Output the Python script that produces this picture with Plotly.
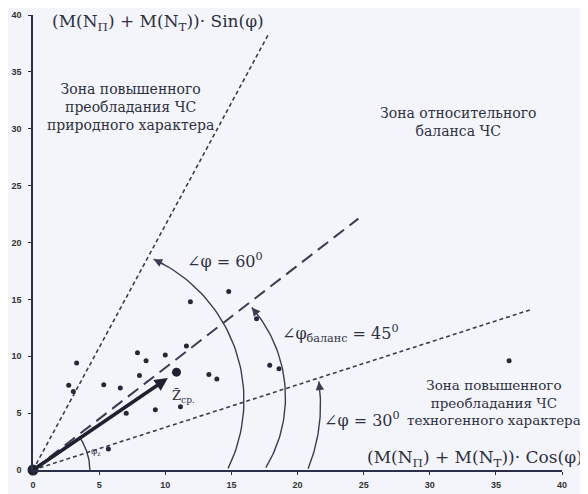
import numpy as np
import plotly.graph_objects as go

# ---- data ----
point_x = [3.3, 2.7, 3.05, 7.9, 8.55, 10.0, 8.05, 5.35, 6.6, 7.05, 9.25, 11.15,
           11.9, 14.8, 13.3, 13.9, 16.9, 17.9, 18.6, 36.0, 5.7, 11.6]
point_y = [9.4, 7.45, 6.9, 10.3, 9.6, 10.1, 8.3, 7.5, 7.2, 5.0, 5.3, 5.55,
           14.8, 15.7, 8.4, 8.0, 13.3, 9.2, 8.9, 9.6, 1.85, 10.9]
mean_vector = [10.85, 8.6]
line60_end = [17.8, 38.3]
line45_end = [24.6, 22.1]
line30_end = [37.65, 14.1]
tick_vals = [0, 5, 10, 15, 20, 25, 30, 35, 40]

# arc constructions: (cx, cy, rx, ry, start_deg, end_deg)
arc60 = (4.13, 6.14, 11.82, 13.68, -26, 65)
arc45 = (8.71, 6.40, 10.38, 12.02, -31, 41)
arc30 = (8.86, 5.70, 12.88, 14.91, -22, 8)
arc_small = (0.0, 0.0, 4.3, 5.0, 0, 36)

INK = "#3a3d52"
TXT = "#2f3040"
SERIF = "DejaVu Serif"

def arc_points(a):
    cx, cy, rx, ry, a0, a1 = a
    t = np.radians(np.linspace(a0, a1, 60))
    return cx + rx * np.cos(t), cy + ry * np.sin(t)

fig = go.Figure()

# boundary lines
fig.add_trace(go.Scatter(x=[0, line60_end[0]], y=[0, line60_end[1]], mode="lines",
                         line=dict(color=INK, width=1.6, dash="4px,3px"), cliponaxis=False))
fig.add_trace(go.Scatter(x=[0, line30_end[0]], y=[0, line30_end[1]], mode="lines",
                         line=dict(color=INK, width=1.6, dash="4px,3px"), cliponaxis=False))
fig.add_trace(go.Scatter(x=[0, line45_end[0]], y=[0, line45_end[1]], mode="lines",
                         line=dict(color=INK, width=2, dash="13px,7px"), cliponaxis=False))

# arcs
for a in (arc60, arc45, arc30, arc_small):
    ax_, ay_ = arc_points(a)
    fig.add_trace(go.Scatter(x=ax_, y=ay_, mode="lines", line=dict(color=INK, width=1.4),
                             cliponaxis=False))
    if a is not arc_small:
        fig.add_annotation(x=ax_[-1], y=ay_[-1], ax=ax_[-4], ay=ay_[-4], axref="x", ayref="y",
                           showarrow=True, arrowhead=2, arrowsize=1.3, arrowwidth=1.3,
                           arrowcolor=INK, text="")

# data points
fig.add_trace(go.Scatter(x=point_x, y=point_y, mode="markers",
                         marker=dict(color="#26283a", size=5, line=dict(width=0)),
                         cliponaxis=False))

# mean vector
fig.add_trace(go.Scatter(x=[0, mean_vector[0]], y=[0, mean_vector[1]], mode="markers",
                         marker=dict(color="#1f2030", size=[11, 9], opacity=1,
                                     line=dict(width=0)),
                         cliponaxis=False))
fig.add_annotation(x=mean_vector[0] * 0.94, y=mean_vector[1] * 0.94, ax=0, ay=0,
                   axref="x", ayref="y",
                   showarrow=True, arrowhead=2, arrowsize=0.75, arrowwidth=3.5,
                   arrowcolor="#1f2030", text="")

def txt(x, y, s, size=15, xanchor="center"):
    fig.add_annotation(x=x, y=y, text=s, showarrow=False, xanchor=xanchor,
                       font=dict(family=SERIF, size=size, color=TXT))

txt(9.47, 39.3, "(M(N<sub>П</sub>) + M(N<sub>T</sub>))· Sin(φ)", 17)
txt(7.35, 31.9, "Зона повышенного<br>преобладания ЧС<br>природного характера", 14)
txt(32.1, 30.6, "Зона относительного<br>баланса ЧС", 14)
txt(14.5, 18.4, "∠φ = 60<sup>0</sup>", 16)
txt(23.26, 12.0, "∠φ<sub>баланс</sub> = 45<sup>0</sup>", 16)
txt(24.9, 4.4, "∠φ = 30<sup>0</sup>", 16)
txt(34.85, 5.96, "Зона повышенного<br>преобладания ЧС<br>техногенного характера", 13.5)
txt(33.4, 1.05, "(M(N<sub>П</sub>) + M(N<sub>T</sub>))· Cos(φ)", 17)
txt(11.4, 6.5, "Z̄<sub>ср.</sub>", 13)
txt(4.8, 1.6, "φ<sub>z</sub>", 9)

axis_common = dict(range=[0, 40], tickvals=tick_vals, showgrid=False, zeroline=False,
                   showline=True, linecolor="#2c2f48", linewidth=1.5, ticks="outside",
                   ticklen=3, tickcolor="#2c2f48", automargin=False,
                   tickfont=dict(family="Liberation Sans", size=9, color="#333",
                                 weight="bold"))

# page body has an 8px margin, so the figure is sized/margined to land the
# plot area where the reference has it inside the 588x494 window
fig.update_layout(
    width=580, height=486,
    margin=dict(l=25, r=26, t=7, b=24),
    paper_bgcolor="#f3f5fa", plot_bgcolor="#f3f5fa",
    showlegend=False,
    xaxis=dict(axis_common, ticklabelstandoff=2),
    yaxis=dict(axis_common, ticklabelstandoff=5),
)

fig.write_html("out.html")
